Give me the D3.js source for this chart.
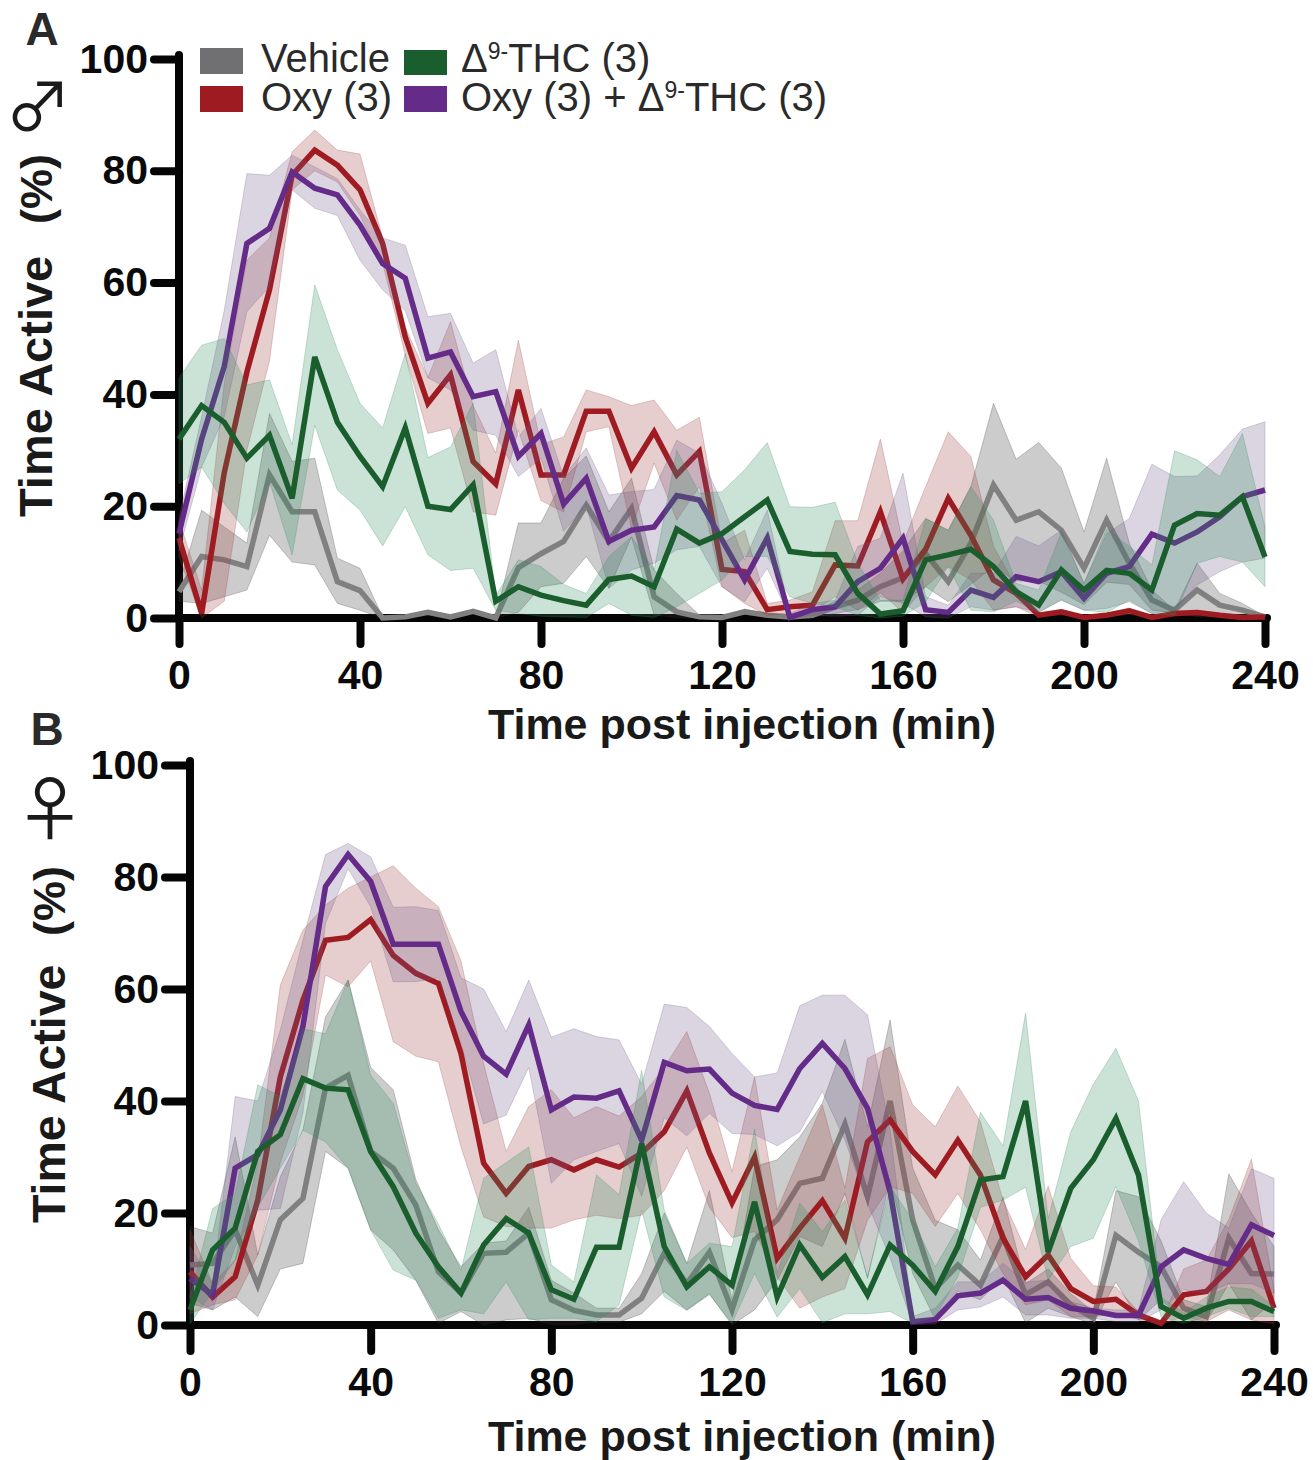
<!DOCTYPE html>
<html>
<head>
<meta charset="utf-8">
<style>
  body { margin: 0; background: #fff; }
  text { font-family: "Liberation Sans", Arial, sans-serif; }
</style>
<script src="https://cdn.jsdelivr.net/npm/d3@7"></script>
</head>
<body>
<div id="vis"></div>
<script>
// every 5 min, 0 to 240
const times = d3.range(0, 245, 5);
const xTicks = [0, 40, 80, 120, 160, 200, 240];
const yTicks = [0, 20, 40, 60, 80, 100];
const legendNames = ["Vehicle", "Oxy (3)"];

const colGray = "#808080", colRed = "#9f1b22", colGreen = "#1a5e2e", colPurple = "#642b88";
const colGraySwatch = "#707072";
const fillGray = "#333333", fillRed = "#9c3c3c", fillGreen = "#2f8a5f", fillPurple = "#6f5787";

// panel A, males
const aVehicle = [4.7,11,10.4,9.2,25.6,19,19,6.5,4.9,0,.2,1,.2,1.2,0,9,11.5,13.7,20.2,13.7,19.6,3.8,1.1,.2,.1,1.1,.5,.2,.5,2,3.2,5.6,7.2,11.5,6.5,13.4,23.8,17.5,19,15.7,8.9,17.5,9.8,3.2,1.4,5,2.3,1.4,.2];
const aVehicleHi = [6,19.3,16.3,13.4,36.6,28,28.6,10.7,8.9,.2,.4,1.4,.4,1.5,.2,17,17,25,29,19,25,8.6,4.4,.5,.3,1.6,.8,.4,1,3,5,8,12,17.8,15.7,23.5,38.4,28.4,31.4,26.8,15.4,28.6,13.4,5,1.4,9.8,4.4,2.6,.3];
const aVehicleLo = [3,2.6,3.8,5,14.8,10,9.5,2.6,1.4,0,0,.6,0,.9,0,1,5.6,6.2,11,5.3,14.5,.5,.1,0,0,.6,.2,0,.1,.8,1.5,3,3,5.6,2.9,6,9.2,6.6,6.6,4.6,2.4,6.4,6,1.4,1,.2,.2,.2,.1];

const aOxy = [14.3,.8,26,44,58.7,79.2,83.7,81,76.6,67,50.3,38.4,43.5,28,24,40.8,25.6,25.6,37,37,26.8,33.3,25.6,29.8,8.7,8.3,1.5,2,2.3,9.5,9.3,19,7,12.3,21.4,14.8,6.8,4.4,.5,1.1,.1,.5,1.3,.1,.8,1,.5,.1,.2];
const aOxyHi = [17.5,5,42,64,68,83.4,87.3,83.7,83,68,52,43,53,38,29.5,49.7,31,32.4,40.8,39.6,38,39,33.6,35.9,13.4,15.7,2.6,3.2,4.7,17.4,17.4,32,13.4,23.5,33.3,28.9,12.8,5.6,.8,1.5,.3,.8,1.8,.3,1.2,1.4,.8,.3,.3];
const aOxyLo = [11,0,3,30,46,76.6,80,78,72,63.5,47,33,34,19,18.4,33.6,21,19,33.3,34.2,16,27.7,17.5,23.5,5.6,2.6,.5,.8,1,3.8,1.4,4.5,1,5.6,9.2,6.8,1.4,2,.2,.6,0,.2,.7,0,.4,.6,.2,0,.1];

const aCombo = [15.1,32,45,67,69.7,79.8,76.9,75.7,70.3,63.4,60.8,46.5,47.6,39.6,40.5,28.9,33,20.4,25,13.7,15.7,16.3,21.9,21.1,14,6.8,14.3,.1,1.5,2,6.5,8.9,14.3,1.5,1,5,3.7,7.4,6.5,8.3,3.5,8,9.2,15,13.4,15.4,18.1,21.7,22.9];
const aComboHi = [18,36,55,79.5,79.2,82.8,80.7,78.6,73,68,66.7,53.9,54.5,45.6,48,32.4,37.5,25.3,30.4,22,22.6,23,31.8,29.5,20.5,10.4,19.3,.8,2.6,3.2,12.8,14.3,25.9,3.8,2.3,8,8,14.6,12.9,15.7,6.2,15.1,17.8,27.5,25.3,25.4,29.2,33.8,35.1];
const aComboLo = [12,27,36,54.8,59.3,76.6,73.3,72,64,58.7,55,43,40.8,33.6,32.7,25.3,28.6,15.5,20.2,5.3,8.6,9.8,12.2,12.8,5.6,2.9,8.9,0,.5,.3,.5,3.8,2.6,.2,0,2,1.4,2,1,3.2,1.4,1.7,2.9,.8,1.4,5.9,8.3,10,10.7];

const aThc = [32,38,35,28.6,32.7,21.4,46.7,35,28.9,23.5,34,20,19.4,23.8,3,5.6,4.1,3.1,2.3,6.9,7.5,5.6,15.9,13.4,15.1,18.1,21.1,11.9,11.4,11.3,4.4,.7,1.3,10.4,11.3,12.3,9.2,4.7,2.3,8.6,5,8.5,8,5,16.6,18.7,18.4,21.7,10.9];
const aThcHi = [43,48.8,50,41.7,42.6,31,59.6,48,38.4,34,47.3,28.7,30.6,38.4,4,10.4,9.2,6,4.4,11,14.5,8.6,30,22.3,22.6,26.5,31.4,19.9,19.8,20.7,9.8,3.2,3.2,17.8,15.7,23.5,17.5,6.2,5,15.4,6.2,16,12.8,9.5,29.9,28.3,25.3,33,16.3];
const aThcLo = [24,27,20.5,15.4,24.4,11.3,34.5,22.9,19.3,12.9,19.9,11.3,8.5,8.9,1.4,.8,.3,.2,.1,2.6,.5,.1,2,4.4,6.8,11,11,3.8,2.6,2,.5,0,.3,2.9,9.2,1.4,1.1,3,1.1,3.2,1.4,1,3.2,.8,.5,9.8,11,10,5.6];

// panel B, females
const bVehicle = [10.7,11,17,7.1,18.8,22.6,42.3,44.6,31,28,21.4,9.5,5.7,12.8,13,16.4,4.5,2.6,1.8,1.8,4.8,12.8,7.4,13,2.7,15.2,18.8,25.3,26.2,35.9,22.9,40,18.8,6.5,10.7,7.1,15.8,5.4,7.7,3.6,1.2,16,13,10.4,3,1.5,15.5,9.2,9.1];
const bVehicleHi = [17.6,16.4,33.6,12.5,26.5,34.8,55,61.6,46,42,26,17,10.4,14.6,15,21,8,5.7,3,3,9.2,20,11,24,4.5,28.3,29.5,33.6,39.6,51,35.4,54.5,28,18.7,17,11.6,22.9,7.4,10,5.6,2.4,24,22.9,15,4.5,3.3,27,20,14];
const bVehicleLo = [3.9,2.7,5,1.5,10,11,31,28,17,13.4,8,.3,2.4,0,.9,1.2,.1,.1,.5,.5,2,6,2.7,5.6,0,2.7,8,15.8,14,23.5,8.3,26,9.2,1,6,4.5,8.6,.4,3,1.5,.2,7.7,.9,4.5,1,.5,7.4,.9,4.2];

const bOxy = [9.5,5,8.6,22.3,44.3,58,68.7,69.2,72.4,66,62.8,61,48.5,28.9,23.5,28.3,29.5,27.7,29.5,28.2,30.7,34.5,41.8,30.7,21.8,30,11.9,17.3,22.2,15.5,32.7,36.6,31,26.8,33,26.8,15.5,8.6,12.5,6.5,4.2,4.6,1.8,.3,5.4,6,10,15,3];
const bOxyHi = [17,7.4,11.6,29,60.7,70.5,75,78,80,82,78,74.7,65,46.7,31,39,42,37,39,37.3,40.8,46,52.4,41.4,27.4,44.3,20.5,30,39.3,24.4,47.6,49.7,39.3,35.4,42.7,36.3,22.3,13.5,24.8,11.9,7,6.8,2.4,.5,10,11.6,18.8,29.6,6.3];
const bOxyLo = [2,3.6,4.5,12.5,29,41,62.5,60.4,65,50.6,48,47,31.8,19.3,17.6,17.3,17.3,18.8,19.6,19,19.6,24,31.8,21,15.6,16.7,8.6,3,5,6.5,18.7,24.7,23.5,17.6,23.5,17,9.2,3.6,4.5,1.5,1.5,2,1,.1,1.5,.6,2.7,.9,.2];

const bCombo = [8.3,5.4,28,30.4,38.4,53.3,78.3,84,79.2,68,68,68,56,48,44.8,53.6,38.4,40.7,40.5,41.8,33,46.9,45.4,45.7,41.4,39.2,38.5,45.8,50.3,45.8,38.7,23.8,.6,1,5.2,5.7,8,4.6,4.9,3,2.5,1.7,1.7,10.4,13.4,11.9,10.8,17.9,16];
const bComboHi = [14,7.4,40.8,40,52.7,68.7,84,86,83.6,74.6,74.7,74,62,60,52.4,61.6,51.4,52.9,51.5,50.9,43,57.3,56.7,53.3,48.5,44.3,45,57,58.9,58.9,55.4,34.8,1.5,3,7.7,7.7,11,7.7,8,4.2,3,2.7,2.7,18.8,25.6,20,17.3,27.9,26.2];
const bComboLo = [5,2.7,14,20.5,20.8,37.8,71.7,81.5,74.7,61.3,61.3,62,50.3,35.9,37.5,46,25.3,29.5,31,32.4,23,37,33.8,37.8,34.2,34,32,34.5,41.7,33,21.7,12,.1,.2,2.7,3.2,5,1.8,1.8,1.2,1.2,.6,.6,2.7,6.3,5.7,7.4,7.4,5.7];

const bThc = [2.7,13.4,17.3,31,34,44,42.3,42,31,24.7,16.4,10.4,5.7,14.3,19,16.4,6.3,4.6,13.9,13.9,32.4,14,6.8,10.4,7.1,22,5,14.3,8.5,12.2,5.4,14.3,10.7,6,14,25.9,26.5,40,13,24.4,29.5,36.9,26.8,3.3,1.2,3,4.2,4.2,2.4];
const bThcHi = [5,20.8,23.5,42.9,40.8,52.9,52,61.6,44.6,39.6,25.3,18,9.8,26.2,29,31.8,10.7,7.7,26.8,23.3,45.5,20.5,11,14.6,14,35,9.2,21.8,16.7,22.3,8.6,24.7,18.8,10.4,17.3,38,32,55.7,19,34.5,43,49.4,40,5,2.2,5,6.8,6.4,3.3];
const bThcLo = [.2,6,11.6,21,28,34.8,32.7,28,17,9.8,8,1.2,2.7,2,7.7,.9,1.2,1.2,.6,3.6,20.5,5,2.6,5.4,.3,9.2,1.4,6.5,.4,2,2,2.4,.3,1.5,8.6,21,22.3,24.6,8,14,15.5,24.7,15,1.5,.3,1.5,3,1.5,1.5];

const svg = d3.select("#vis").append("svg")
    .attr("width", 1313)
    .attr("height", 1460)
    .style("display", "block");

function drawPanel(x0, x1, y0, y1, series){
  const x = d3.scaleLinear().domain([0, 240]).range([x0, x1]);
  const y = d3.scaleLinear().domain([0, 100]).range([y0, y1]);
  const g = svg.append("g");

  const xAxis = g.append("g")
      .attr("transform", "translate(0," + y0 + ")")
      .call(d3.axisBottom(x).tickValues(xTicks).tickSize(26).tickSizeOuter(0).tickPadding(16));
  const yAxis = g.append("g")
      .attr("transform", "translate(" + x0 + ",0)")
      .call(d3.axisLeft(y).tickValues(yTicks).tickSize(25).tickSizeOuter(0).tickPadding(6));
  xAxis.select(".domain").attr("d", "M" + x0 + ",0H" + (x1 + 2));
  yAxis.select(".domain").attr("d", "M0," + y0 + "V" + (y1 - 4));

  [xAxis, yAxis].forEach(function(a){
    a.selectAll(".domain, .tick line")
        .attr("stroke", "#050505")
        .attr("stroke-width", 8)
        .attr("stroke-linecap", "round");
    a.selectAll("text")
        .attr("fill", "#0a0a0a")
        .style("font-size", "41px")
        .style("font-weight", "bold")
        .style("font-family", "'Liberation Sans', Arial, sans-serif");
  });

  const area = d3.area()
      .x(function(d){ return x(d.t); })
      .y0(function(d){ return y(d.lo); })
      .y1(function(d){ return y(d.hi); });
  const line = d3.line()
      .x(function(d){ return x(d.t); })
      .y(function(d){ return y(d.v); });

  series.forEach(function(s){
    const rows = times.map(function(t, i){
      return {t: t, v: s.v[i], hi: s.hi[i], lo: s.lo[i]};
    });
    g.append("path")
        .attr("d", area(rows))
        .attr("fill", s.fill)
        .attr("fill-opacity", .25)
        .attr("stroke", s.fill)
        .attr("stroke-opacity", .25)
        .attr("stroke-width", 1);
    g.append("path")
        .attr("d", line(rows))
        .attr("fill", "none")
        .attr("stroke", s.color)
        .attr("stroke-width", 5.5)
        .attr("stroke-linejoin", "miter");
  });
}

drawPanel(179, 1265, 618, 59, [
  {v: aVehicle, hi: aVehicleHi, lo: aVehicleLo, color: colGray, fill: fillGray},
  {v: aOxy, hi: aOxyHi, lo: aOxyLo, color: colRed, fill: fillRed},
  {v: aCombo, hi: aComboHi, lo: aComboLo, color: colPurple, fill: fillPurple},
  {v: aThc, hi: aThcHi, lo: aThcLo, color: colGreen, fill: fillGreen}
]);
drawPanel(190, 1274, 1325, 765, [
  {v: bVehicle, hi: bVehicleHi, lo: bVehicleLo, color: colGray, fill: fillGray},
  {v: bOxy, hi: bOxyHi, lo: bOxyLo, color: colRed, fill: fillRed},
  {v: bCombo, hi: bComboHi, lo: bComboLo, color: colPurple, fill: fillPurple},
  {v: bThc, hi: bThcHi, lo: bThcLo, color: colGreen, fill: fillGreen}
]);

// axis titles
function boldText(px, py, str, size, anchor){
  return svg.append("text")
      .attr("x", px)
      .attr("y", py)
      .attr("text-anchor", anchor)
      .attr("fill", "#1a1a1a")
      .style("font-size", size + "px")
      .style("font-weight", "bold")
      .text(str);
}
boldText(742, 739, "Time post injection (min)", 43, "middle");
boldText(742, 1451, "Time post injection (min)", 43, "middle");
boldText(0, 0, "Time Active", 47, "start")
    .attr("transform", "translate(52,517)rotate(-90)");
boldText(0, 0, "(%)", 45, "start")
    .attr("transform", "translate(52,224)rotate(-90)");
boldText(0, 0, "Time Active", 46.5, "start")
    .attr("transform", "translate(65,1223)rotate(-90)");
boldText(0, 0, "(%)", 45, "start")
    .attr("transform", "translate(65,936)rotate(-90)");

boldText(42, 45, "A", 46, "middle").attr("fill", "#2a2a2a");
boldText(47, 745, "B", 46, "middle").attr("fill", "#2a2a2a");

svg.append("text").attr("x", 38).attr("y", 131)
    .attr("text-anchor", "middle").attr("fill", "#1a1a1a")
    .style("font-family", "'Noto Sans CJK SC'").style("font-size", "66px")
    .text("\u2642");
svg.append("text").attr("x", 50).attr("y", 835)
    .attr("text-anchor", "middle").attr("fill", "#1a1a1a")
    .style("font-family", "'Noto Sans CJK SC'").style("font-size", "70px")
    .text("\u2640");

// legend
const swatches = [
  {c: colGraySwatch, lx: 200, ly: 48, name: legendNames[0], tx: 261, ty: 72},
  {c: colRed, lx: 200, ly: 86, name: legendNames[1], tx: 261, ty: 111}
];
swatches.forEach(function(s){
  svg.append("rect").attr("x", s.lx).attr("y", s.ly).attr("width", 43).attr("height", 26).attr("fill", s.c);
  svg.append("text").attr("x", s.tx).attr("y", s.ty).attr("fill", "#2a2a2a").style("font-size", "40px").text(s.name);
});
svg.append("rect").attr("x", 404).attr("y", 50).attr("width", 43).attr("height", 25).attr("fill", colGreen);
svg.append("rect").attr("x", 404).attr("y", 86).attr("width", 43).attr("height", 26).attr("fill", colPurple);

function thcLabel(px, py, before){
  const t = svg.append("text").attr("x", px).attr("y", py).attr("fill", "#2a2a2a").style("font-size", "40px");
  t.append("tspan").text(before + "\u0394");
  t.append("tspan").attr("dy", -13).style("font-size", "23px").text("9-");
  t.append("tspan").attr("dy", 13).text("THC (3)");
}
thcLabel(461, 72, "");
thcLabel(461, 111, "Oxy (3) + ");
</script>
</body>
</html>
